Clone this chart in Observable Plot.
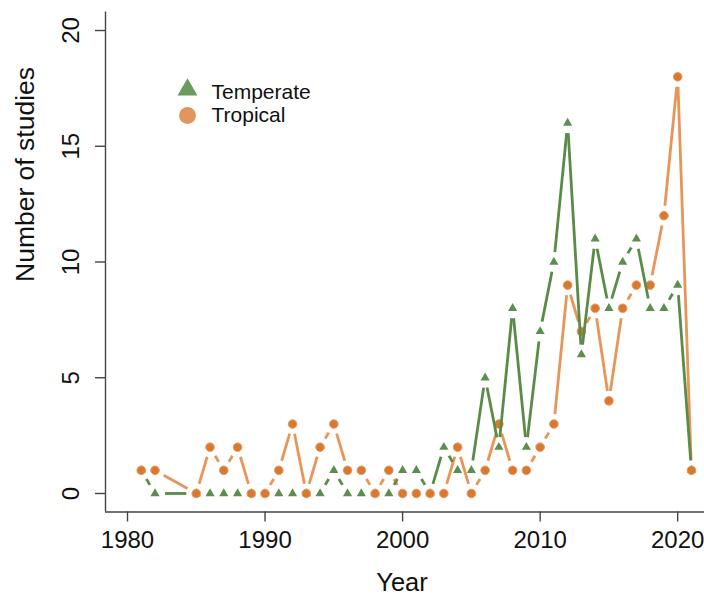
<!DOCTYPE html>
<html>
<head>
<meta charset="utf-8">
<script src="https://cdn.jsdelivr.net/npm/d3@7"></script>
<script src="https://cdn.jsdelivr.net/npm/@observablehq/plot@0.6"></script>
<style>
  html, body { margin: 0; padding: 0; background: #fff; }
  #chart svg { display: block; }
</style>
</head>
<body>
<div id="chart"></div>
<script>
// ---- data ----
const years = [1981, 1982, 1985, 1986, 1987, 1988, 1989, 1990, 1991, 1992, 1993, 1994, 1995, 1996, 1997, 1998, 1999, 2000, 2001, 2002, 2003, 2004, 2005, 2006, 2007, 2008, 2009, 2010, 2011, 2012, 2013, 2014, 2015, 2016, 2017, 2018, 2019, 2020, 2021];
const temperate = [1, 0, 0, 0, 0, 0, 0, 0, 0, 0, 0, 0, 1, 0, 0, 0, 0, 1, 1, 0, 2, 1, 1, 5, 2, 8, 2, 7, 10, 16, 6, 11, 8, 10, 11, 8, 8, 9, 1];
const tropical  = [1, 1, 0, 2, 1, 2, 0, 0, 1, 3, 0, 2, 3, 1, 1, 0, 1, 0, 0, 0, 0, 2, 0, 1, 3, 1, 1, 2, 3, 9, 7, 8, 4, 8, 9, 9, 12, 18, 1];
const seriesNames = ["Temperate", "Tropical"];
const xTicks = [1980, 1990, 2000, 2010, 2020];
const yTicks = [0, 5, 10, 15, 20];
const xDomain = [1978.4, 2021.95];
const yDomain = [-0.8, 20.8];
const xTitle = "Year";
const yTitle = "Number of studies";

// ---- layout / style ----
const W = 704, H = 598;
const mL = 105, mR = 0, mT = 11.5, mB = 86.5;
const GAP = 10; // type="b" style gap around points (px)
const FONT = "'Liberation Sans', Arial, Helvetica, sans-serif";
const green = "#5a8c48", greenPt = "#5b8f4b", greenLeg = "#6a9a5e";
const orange = "#e8955a", orangePt = "#d9782f", orangeRim = "#e89a60", orangeLeg = "#e3955e";
const axisCol = "#444", textCol = "#111";

const tempRows = years.map((yr, i) => ({year: yr, value: temperate[i], series: seriesNames[0]}));
const tropRows = years.map((yr, i) => ({year: yr, value: tropical[i], series: seriesNames[1]}));

// scales identical to the ones used by the plot, to shorten segments in pixel space
const xs = Plot.scale({x: {domain: xDomain, range: [mL, W - mR]}});
const ys = Plot.scale({y: {domain: yDomain, range: [H - mB, mT]}});

function gapSegments(rows) {
  const segs = [];
  for (let i = 0; i < rows.length - 1; i++) {
    const a = rows[i], b = rows[i + 1];
    const ax = xs.apply(a.year), ay = ys.apply(a.value);
    const bx = xs.apply(b.year), by = ys.apply(b.value);
    const dx = bx - ax, dy = by - ay, L = Math.hypot(dx, dy);
    if (L <= 2 * GAP) continue;
    const ux = dx / L, uy = dy / L;
    segs.push({
      x1: xs.invert(ax + ux * GAP), y1: ys.invert(ay + uy * GAP),
      x2: xs.invert(bx - ux * GAP), y2: ys.invert(by - uy * GAP)
    });
  }
  return segs;
}
const tempSegs = gapSegments(tempRows);
const tropSegs = gapSegments(tropRows);

const chart = Plot.plot({
  width: W, height: H,
  marginLeft: mL, marginRight: mR, marginTop: mT, marginBottom: mB,
  style: {fontFamily: FONT, color: textCol, background: "#fff"},
  x: {domain: xDomain},
  y: {domain: yDomain},
  marks: [
    // axis spines (bty = "l")
    Plot.ruleX([xDomain[0]], {stroke: axisCol, strokeWidth: 1.4}),
    Plot.ruleY([yDomain[0]], {stroke: axisCol, strokeWidth: 1.4}),
    Plot.axisX(xTicks, {tickSize: 10, tickPadding: 9, fontSize: 24, tickFormat: d => String(d), label: null, stroke: axisCol, strokeWidth: 1.4, fill: textCol}),
    Plot.axisY(yTicks, {tickSize: 10, tickPadding: 17, tickRotate: -90, fontSize: 24, tickFormat: d => String(d), label: null, stroke: axisCol, strokeWidth: 1.4, fill: textCol}),
    // axis titles
    Plot.text([xTitle], {frameAnchor: "bottom", lineAnchor: "top", dx: -3, dy: 61, fontSize: 25.5, fill: textCol}),
    Plot.text([yTitle], {frameAnchor: "left", lineAnchor: "top", rotate: -90, dx: -90, dy: 20, fontSize: 26.5, fill: textCol}),
    // series
    Plot.link(tropSegs, {x1: "x1", y1: "y1", x2: "x2", y2: "y2", stroke: orange, strokeWidth: 2.8}),
    Plot.dot(tempRows, {x: "year", y: "value", symbol: "triangle", r: 3.4, fill: greenPt, stroke: "none"}),
    Plot.dot(tropRows, {x: "year", y: "value", symbol: "circle", r: 4.3, fill: orangePt, stroke: orangeRim, strokeWidth: 1}),
    Plot.link(tempSegs, {x1: "x1", y1: "y1", x2: "x2", y2: "y2", stroke: green, strokeWidth: 2.8}),
    // legend
    Plot.dot([seriesNames[0]], {frameAnchor: "top-left", dx: 82, dy: 77.8, symbol: "triangle", r: 7.4, fill: greenLeg}),
    Plot.dot([seriesNames[1]], {frameAnchor: "top-left", dx: 82, dy: 103.5, symbol: "circle", r: 8.5, fill: orangeLeg}),
    Plot.text([seriesNames[0]], {text: d => d, frameAnchor: "top-left", textAnchor: "start", lineAnchor: "middle", dx: 106, dy: 79.8, fontSize: 21, fill: textCol}),
    Plot.text([seriesNames[1]], {text: d => d, frameAnchor: "top-left", textAnchor: "start", lineAnchor: "middle", dx: 106, dy: 103.5, fontSize: 21, fill: textCol})
  ]
});
document.getElementById("chart").appendChild(chart);
</script>
</body>
</html>
